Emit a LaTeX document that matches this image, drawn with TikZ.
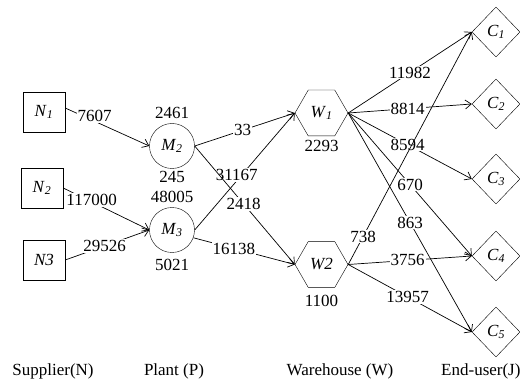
\documentclass[tikz,border=0pt]{standalone}
\usepackage{fontspec}
\setmainfont{Liberation Serif}
\usepackage{tikz}
\usetikzlibrary{arrows.meta,positioning,shapes.geometric}

\newcommand{\nd}[2]{\textit{#1}\textsubscript{\textit{#2}}}

\begin{document}
\begin{tikzpicture}[x=1pt,y=-1pt,
  font=\fontsize{17}{19}\selectfont,
  supplier/.style={draw, rectangle, minimum width=42pt, minimum height=40pt, inner sep=0pt},
  plant/.style={draw, circle, minimum size=45pt, inner sep=0pt},
  depot/.style={draw, regular polygon, regular polygon sides=6, minimum size=53pt, inner sep=0pt},
  user/.style={draw, diamond, minimum width=48pt, minimum height=50pt, inner sep=0pt},
  flow/.style={-{Straight Barb[length=6pt,width=9pt]}, line width=0.7pt},
  qty/.style={fill=white, inner sep=1pt},
  amount/.style={inner sep=1pt}]
\useasboundingbox (0,0) rectangle (520,385);
\node [supplier] (N1) at (44,112) {\nd{N}{1}};
\node [supplier] (N2) at (42,188) {\nd{N}{2}};
\node [supplier] (N3) at (44,260) {\textit{N3}};
\node [plant] (M2) at (172,146) {\nd{M}{2}};
\node [plant] (M3) at (172,230) {\nd{M}{3}};
\node [depot] (W1) at (321.5,113) {\nd{W}{1}};
\node [depot] (W2) at (321.5,264.5) {\textit{W2}};
\node [user] (C1) at (496,32) {\nd{C}{1}};
\node [user] (C2) at (496,104) {\nd{C}{2}};
\node [user] (C3) at (496,179) {\nd{C}{3}};
\node [user] (C4) at (496,256) {\nd{C}{4}};
\node [user] (C5) at (496,332) {\nd{C}{5}};
% amounts at the nodes
\node [amount, above=3pt of M2] (m2in) {2461};
\node [amount, below=1pt of M2] (m2out) {245};
\node [amount, above=3pt of M3] (m3in) {48005};
\node [amount, below=5pt of M3] (m3out) {5021};
\node [amount, below=3pt of W1] (w1out) {2293};
\node [amount, below=6pt of W2] (w2out) {1100};
% suppliers to plants
\draw [flow] ([yshift=4pt]N1.east) -- node[qty, pos=0.35, yshift=5pt] {7607} (M2.west);
\draw [flow] (N2.east) -- node[qty, pos=0.33, yshift=2pt] {117000} (M3.west);
\draw [flow] (N3.east) -- node[qty, pos=0.47] {29526} (M3.west);
% plants to warehouses
\draw [flow] (M2.east) -- node[qty, pos=0.48] {33} (W1.west);
\draw [flow] (M3.east) -- node[qty, pos=0.42, yshift=6pt] {31167} (W1.west);
\draw [flow] (M2.east) -- node[qty, pos=0.49] {2418} (W2.west);
\draw [flow] (M3.-20) -- node[qty, pos=0.4] {16138} (W2.west);
% warehouses to end-users
\draw [flow] (W1.east) -- node[qty, pos=0.5] {11982} (C1.west);
\draw [flow] (W1.east) -- node[qty, pos=0.48] {8814} (C2.west);
\draw [flow] (W1.east) -- node[qty, pos=0.48] {8594} (C3.west);
\draw [flow] (W1.east) -- node[qty, pos=0.5] {670} (C4.west);
\draw [flow] (W1.east) -- node[qty, pos=0.5] {863} (C5.west);
\draw [flow] (W2.east) -- node[qty, pos=0.12] {738} (C1.west);
\draw [flow] (W2.east) -- node[qty, pos=0.48] {3756} (C4.west);
\draw [flow] (W2.east) -- node[qty, pos=0.48] {13957} (C5.west);
% stages
\node (sup) at (53,371) {Supplier(N)};
\node (pla) at (174,371) {Plant (P)};
\node (war) at (340,371) {Warehouse (W)};
\node [anchor=west, inner sep=0pt] (usr) at (441,371) {End-user(J)};
\end{tikzpicture}
\end{document}
